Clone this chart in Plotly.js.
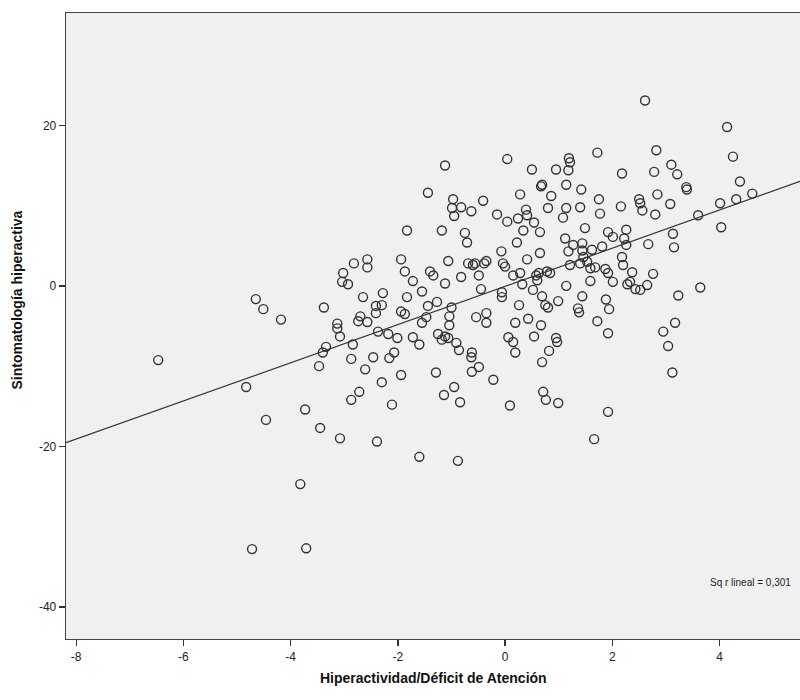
<!DOCTYPE html>
<html>
<head>
<meta charset="utf-8">
<script src="https://cdn.plot.ly/plotly-3.0.1.min.js"></script>
<style>html,body{margin:0;padding:0;background:#fff;}#chart{width:800px;height:700px;}</style>
</head>
<body>
<div id="chart"></div>
<script>
// Hiperactividad/Déficit de Atención (x) vs Sintomatología hiperactiva (y)
const xValues = [
-6.47,-4.83,-4.46,-3.73,-3.45,-3.47,-3.40,-3.34,-3.08,
-4.65,-4.51,-4.18,-3.38,-3.13,-3.13,
-1.60,-0.88,-3.82,-4.72,-3.71,-2.39,
-1.12,0.04,-1.44,-0.97,-0.41,0.28,-0.99,-0.82,-0.63,-0.95,-0.15,0.39,0.24,0.04,
0.34,-1.83,-1.18,-0.75,-0.71,0.22,-0.07,0.41,-2.82,-2.57,-2.57,-3.02,-3.04,-2.93,-1.94,-1.87,-1.72,-1.40,-1.34,-1.06,-1.12,-0.82,-0.69,-0.60,-0.56,-0.39,-0.35,-0.49,-0.04,0.00,0.15,0.28,0.32,-0.45,-0.06,-0.06,0.26,-2.65,-2.28,-2.30,-2.41,-2.41,-2.70,-2.74,-2.57,-1.83,-1.94,-1.87,-1.55,-1.44,-1.27,-1.47,-1.55,-1.00,-1.04,-1.04,-1.25,-1.12,-2.37,-2.18,-0.54,-0.35,-0.35,0.19,0.43,
2.61,4.14,4.25,1.72,2.82,1.19,1.21,1.18,0.50,0.95,2.18,2.78,3.10,3.21,4.38,0.67,0.69,1.14,1.42,3.38,3.39,0.86,1.75,2.84,4.01,4.31,4.61,0.80,1.14,1.40,2.16,2.50,2.52,2.56,3.08,1.77,0.41,1.08,2.80,3.60,
0.54,0.65,1.49,1.92,2.01,2.26,2.22,2.26,4.03,3.13,3.15,2.67,1.12,1.27,1.44,1.18,1.44,1.46,1.40,1.53,1.62,1.81,0.65,0.58,0.63,0.78,0.84,0.60,1.21,1.68,1.59,1.87,1.92,2.18,2.20,2.37,2.76,2.01,1.59,2.28,2.33,2.43,2.52,2.65,1.14,0.52,0.69,0.75,0.80,0.99,1.44,1.88,1.94,1.36,1.38,3.23,3.64,0.67,1.72,1.92,3.17,2.95,0.54,0.95,
-3.08,-2.84,-2.01,-1.72,-1.60,-1.18,-1.06,-0.91,-0.86,-0.62,-0.63,0.06,0.15,0.19,-2.87,-2.46,-2.07,-2.16,-2.61,-2.30,-1.94,-1.29,-0.62,-0.49,-0.22,-0.95,-1.14,-0.84,-2.72,-2.87,-2.11,0.09,
0.97,0.82,0.69,3.04,3.12,0.71,0.76,0.99,1.92,1.66
];
const yValues = [
-9.25,-12.6,-16.7,-15.4,-17.7,-10.0,-8.3,-7.6,-19.0,
-1.65,-2.9,-4.2,-2.7,-4.7,-5.3,
-21.3,-21.8,-24.7,-32.8,-32.7,-19.4,
15.0,15.8,11.6,10.8,10.6,11.4,9.7,9.8,9.3,8.7,8.9,9.5,8.4,8.0,
6.9,6.9,6.9,6.6,5.4,5.4,4.3,3.3,2.8,3.3,2.3,1.6,0.5,0.2,3.3,1.8,0.6,1.8,1.3,3.1,0.3,1.1,2.8,2.6,2.8,2.8,3.1,1.3,2.8,2.4,1.3,1.6,0.2,-0.4,-0.8,-1.4,-2.4,-1.4,-0.9,-2.4,-2.5,-3.4,-3.8,-4.4,-4.5,-1.4,-3.2,-3.5,-0.7,-2.5,-2.0,-3.9,-4.6,-2.7,-3.8,-4.9,-6.0,-6.3,-5.7,-6.0,-3.9,-3.4,-4.6,-4.6,-4.1,
23.1,19.8,16.1,16.6,16.9,15.9,15.4,14.4,14.5,14.5,14.0,14.2,15.1,13.9,13.0,12.4,12.6,12.6,12.0,12.3,12.0,11.2,10.8,11.4,10.3,10.8,11.5,9.7,9.7,9.8,9.9,10.8,10.3,9.4,10.2,9.0,8.8,8.5,8.9,8.8,
7.9,6.7,7.2,6.7,6.1,7.0,5.9,5.1,7.3,6.5,4.8,5.2,5.9,5.1,5.3,4.3,4.4,3.6,2.8,3.0,4.5,4.9,4.1,1.3,1.6,1.8,1.6,0.7,2.6,2.3,2.2,2.1,1.6,3.6,2.6,1.7,1.5,0.5,0.6,0.2,0.5,-0.4,-0.5,0.1,0.0,-0.5,-1.3,-2.4,-2.7,-1.9,-1.3,-1.7,-2.9,-2.8,-3.3,-1.2,-0.2,-4.9,-4.4,-5.9,-4.6,-5.7,-6.3,-6.5,
-6.3,-7.3,-6.5,-6.4,-7.3,-6.7,-6.5,-7.1,-8.0,-8.3,-8.9,-6.4,-7.0,-8.3,-9.1,-8.9,-8.3,-9.0,-10.4,-12.0,-11.1,-10.8,-10.7,-10.1,-11.7,-12.6,-13.6,-14.5,-13.2,-14.2,-14.8,-14.9,
-7.0,-8.1,-9.5,-7.5,-10.8,-13.2,-14.2,-14.6,-15.7,-19.1
];
const xTicks = [-8,-6,-4,-2,0,2,4];
const yTicks = [-40,-20,0,20];
const xTitle = 'Hiperactividad/Déficit de Atención';
const yTitle = 'Sintomatología hiperactiva';
const r2Label = 'Sq r lineal = 0,301';

const xRange = [-8.19, 5.5];
const yRange = [-44.0, 34.0];

// least-squares fit line computed from the data
const n = xValues.length;
const mx = xValues.reduce((a,b)=>a+b,0)/n;
const my = yValues.reduce((a,b)=>a+b,0)/n;
let sxy=0, sxx=0;
for (let i=0;i<n;i++){ sxy += (xValues[i]-mx)*(yValues[i]-my); sxx += (xValues[i]-mx)**2; }
const slope = sxy/sxx;
const intercept = my - slope*mx;
const fitX = [xRange[0], xRange[1]];
const fitY = fitX.map(v => intercept + slope*v);

const fam = '"Liberation Sans Narrow", "Liberation Sans", Arial, sans-serif';
const axisFont = {family:fam, size:12, color:'#222'};
const titleFont = {family:fam, size:14, color:'#111'};

const traces = [
  {x:xValues, y:yValues, type:'scatter', mode:'markers',
   marker:{symbol:'circle-open', size:9, color:'#333', line:{width:1.4, color:'#333'}},
   hoverinfo:'x+y', showlegend:false},
  {x:fitX, y:fitY, type:'scatter', mode:'lines',
   line:{color:'#333', width:1.2}, hoverinfo:'skip', showlegend:false}
];

const layout = {
  width:800, height:700,
  margin:{l:66, r:0, t:13, b:61},
  paper_bgcolor:'#ffffff', plot_bgcolor:'#f0f0f0',
  showlegend:false,
  xaxis:{range:xRange, tickvals:xTicks, ticktext:xTicks.map(String), ticks:'outside', ticklen:6, tickwidth:1.3, tickcolor:'#333',
         showgrid:false, zeroline:false, showline:true, mirror:true, linecolor:'#444', linewidth:1.3,
         tickfont:axisFont},
  yaxis:{range:yRange, tickvals:yTicks, ticktext:yTicks.map(String), ticks:'outside', ticklen:6, tickwidth:1.3, tickcolor:'#333',
         showgrid:false, zeroline:false, showline:true, mirror:true, linecolor:'#444', linewidth:1.3,
         tickfont:axisFont},
  annotations:[
    {text:'<b>'+xTitle+'</b>', xref:'paper', yref:'paper', x:0.5, y:-0.062, xanchor:'center', yanchor:'middle', showarrow:false, font:titleFont},
    {text:'<b>'+yTitle+'</b>', xref:'paper', yref:'paper', x:-0.067, y:0.542, xanchor:'center', yanchor:'middle', textangle:-90, showarrow:false, font:titleFont},
    {text:r2Label, xref:'x', yref:'y', x:3.79, y:-37.0, xanchor:'left', yanchor:'middle', showarrow:false, font:{family:fam, size:10, color:'#222'}}
  ]
};

Plotly.newPlot('chart', traces, layout, {displayModeBar:false, staticPlot:true});
</script>
</body>
</html>
